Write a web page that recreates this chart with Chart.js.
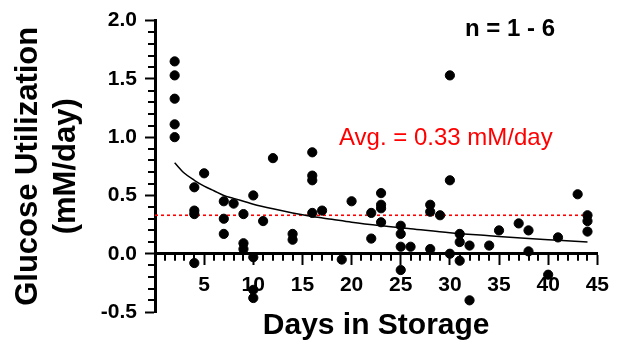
<!DOCTYPE html>
<html>
<head>
<meta charset="utf-8">
<script src="https://cdn.jsdelivr.net/npm/chart.js@4.4.1/dist/chart.umd.min.js"></script>
<style>
  html, body { margin: 0; padding: 0; background: #fff; }
  canvas { display: block; }
</style>
</head>
<body>
<canvas id="chart" width="618" height="346"></canvas>
<script>
// --- data ---
const days = [2, 2, 2, 2, 2, 4, 4, 4, 4, 5, 7, 7, 7, 8, 9, 9, 9, 10, 10, 10, 10, 11, 12, 14, 14,
  16, 16, 16, 16, 17, 19, 20, 22, 22, 23, 23, 23, 23, 25, 25, 25, 25, 26, 28, 28, 28, 29,
  30, 30, 30, 31, 31, 31, 32, 32, 34, 35, 37, 38, 38, 40, 41, 43, 44, 44, 44];
const glucose = [1.65, 1.53, 1.33, 1.11, 1.00, 0.57, 0.37, 0.34, -0.08, 0.69, 0.45, 0.30, 0.17, 0.43,
  0.34, 0.09, 0.04, 0.50, -0.03, -0.31, -0.38, 0.28, 0.82, 0.17, 0.12,
  0.87, 0.67, 0.63, 0.35, 0.37, -0.05, 0.45, 0.35, 0.13, 0.52, 0.42, 0.39, 0.27,
  0.24, 0.17, 0.06, -0.14, 0.06, 0.42, 0.36, 0.04, 0.33,
  1.53, 0.63, 0.00, 0.17, 0.10, -0.06, 0.07, -0.40, 0.07, 0.20, 0.26, 0.20, 0.02,
  -0.18, 0.14, 0.51, 0.33, 0.28, 0.19];

// fitted curve, read at a few days
const fitDays = [2, 3, 4, 5, 6, 7, 8, 10, 12, 14, 16, 18, 20, 23, 26, 30, 34, 38, 41, 44];
const fitValues = [0.78, 0.69, 0.63, 0.58, 0.54, 0.50, 0.475, 0.425, 0.385, 0.35, 0.32, 0.295,
  0.27, 0.24, 0.215, 0.18, 0.155, 0.13, 0.115, 0.10];

const avgDays = [0, 44.4];
const avgValue = 0.33;

const xTicks = [0, 5, 10, 15, 20, 25, 30, 35, 40, 45];
const yTicks = [-0.5, 0, 0.5, 1.0, 1.5, 2.0];

const FONT = "'Liberation Sans', Arial, sans-serif";

// minor tick marks + annotation text
const extras = {
  id: 'extras',
  afterDraw(chart) {
    const ctx = chart.ctx;
    const xs = chart.scales.x, ys = chart.scales.y;
    ctx.save();
    ctx.strokeStyle = '#000';
    ctx.lineWidth = 2;
    const y0 = ys.getPixelForValue(0);
    for (let d = 1; d < 45; d++) {
      if (d % 5 === 0) continue;
      const px = Math.round(xs.getPixelForValue(d));
      ctx.beginPath();
      ctx.moveTo(px, y0);
      ctx.lineTo(px, y0 + 7);
      ctx.stroke();
    }
    const left = chart.chartArea.left;
    for (let i = -5; i <= 20; i++) {
      if (i % 5 === 0) continue;
      const py = Math.round(ys.getPixelForValue(i / 10));
      ctx.beginPath();
      ctx.moveTo(left, py);
      ctx.lineTo(left - 7, py);
      ctx.stroke();
    }
    ctx.textBaseline = 'alphabetic';
    ctx.textAlign = 'left';
    ctx.fillStyle = '#000';
    ctx.font = 'bold 24px ' + FONT;
    ctx.fillText('n = 1 - 6', 465, 36);
    ctx.fillStyle = '#ff0000';
    ctx.font = '24px ' + FONT;
    ctx.fillText('Avg. = 0.33 mM/day', 339, 145);
    ctx.restore();
  }
};

new Chart(document.getElementById('chart'), {
  type: 'scatter',
  data: {
    datasets: [
      {
        data: days.map((d, i) => ({ x: d, y: glucose[i] })),
        backgroundColor: '#000',
        borderColor: '#000',
        pointRadius: 4.6,
        pointHoverRadius: 4.6
      },
      {
        data: fitDays.map((d, i) => ({ x: d, y: fitValues[i] })),
        showLine: true,
        borderColor: '#000',
        borderWidth: 1.5,
        pointRadius: 0,
        cubicInterpolationMode: 'monotone'
      },
      {
        data: avgDays.map(d => ({ x: d, y: avgValue })),
        showLine: true,
        borderColor: '#ff0000',
        borderWidth: 1.6,
        borderDash: [3, 3],
        pointRadius: 0
      }
    ]
  },
  options: {
    responsive: false,
    animation: false,
    events: [],
    layout: { padding: { top: 15, right: 13, left: 0, bottom: 0 } },
    plugins: {
      legend: { display: false },
      tooltip: { enabled: false },
      title: {
        display: true,
        position: 'bottom',
        fullSize: false,
        text: 'Days in Storage',
        color: '#000',
        font: { family: FONT, size: 30, weight: 'bold', lineHeight: 0.9 },
        padding: { top: 0, bottom: 7 }
      }
    },
    scales: {
      x: {
        type: 'linear',
        position: { y: 0 },
        min: 0,
        max: 45,
        afterBuildTicks: s => { s.ticks = xTicks.map(v => ({ value: v })); },
        afterFit: s => { s.height = 0; },
        border: { display: true, color: '#000', width: 3 },
        grid: { drawOnChartArea: false, drawTicks: true, tickLength: 10, tickWidth: 2, tickColor: '#000' },
        ticks: {
          color: '#000',
          padding: 9,
          maxRotation: 0,
          font: { family: FONT, size: 21, weight: 'bold' },
          callback: v => (v === 0 ? '' : String(v))
        }
      },
      y: {
        type: 'linear',
        position: 'left',
        min: -0.5,
        max: 2.0,
        afterBuildTicks: s => { s.ticks = yTicks.map(v => ({ value: v })); },
        afterFit: s => { s.width = 155; },
        border: { display: true, color: '#000', width: 3 },
        grid: { drawOnChartArea: false, drawTicks: true, tickLength: 10, tickWidth: 2, tickColor: '#000' },
        ticks: {
          color: '#000',
          padding: 8,
          font: { family: FONT, size: 21, weight: 'bold' },
          callback: v => Number(v).toFixed(1)
        },
        title: {
          display: true,
          text: ['Glucose Utilization', '(mM/day)'],
          color: '#000',
          font: { family: FONT, size: 31, weight: 'bold', lineHeight: 1.23 },
          padding: { top: 9, bottom: 0 }
        }
      }
    }
  },
  plugins: [extras]
});
</script>
</body>
</html>
